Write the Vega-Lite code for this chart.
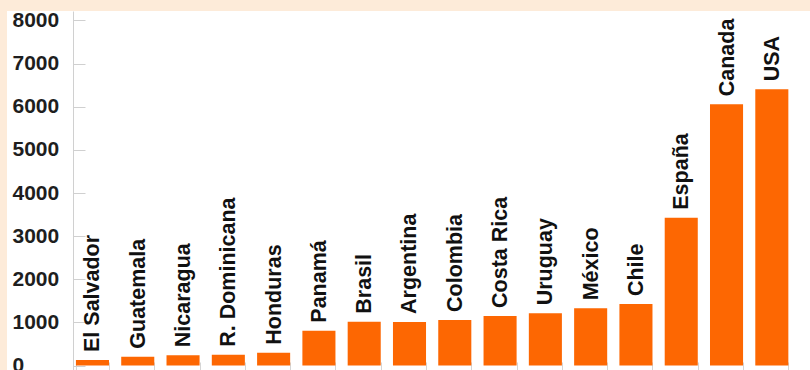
{
  "$schema": "https://vega.github.io/schema/vega-lite/v6.json",
  "width": 803,
  "height": 359,
  "autosize": {"type": "none"},
  "padding": {"left": 7, "top": 11, "right": 0, "bottom": 0},
  "background": "#fdebd9",
  "config": {"view": {"fill": "white", "stroke": null}},
  "data": {"values": [
    {"pais": "El Salvador", "valor": 130},
    {"pais": "Guatemala", "valor": 206},
    {"pais": "Nicaragua", "valor": 240},
    {"pais": "R. Dominicana", "valor": 250},
    {"pais": "Honduras", "valor": 299},
    {"pais": "Panamá", "valor": 809},
    {"pais": "Brasil", "valor": 1018},
    {"pais": "Argentina", "valor": 1012},
    {"pais": "Colombia", "valor": 1057},
    {"pais": "Costa Rica", "valor": 1150},
    {"pais": "Uruguay", "valor": 1212},
    {"pais": "México", "valor": 1328},
    {"pais": "Chile", "valor": 1426},
    {"pais": "España", "valor": 3428},
    {"pais": "Canada", "valor": 6057},
    {"pais": "USA", "valor": 6404}
  ]},
  "encoding": {
    "x": {
      "field": "pais", "type": "nominal", "sort": null,
      "scale": {"paddingInner": 0.27, "paddingOuter": 1.083, "align": 0.761, "round": false},
      "axis": {"labels": false, "title": null, "domain": false, "ticks": true, "tickBand": "extent", "tickSize": -8, "tickColor": "#d5d5d5"}
    },
    "y": {
      "field": "valor", "type": "quantitative",
      "scale": {"domain": [-102, 8220], "nice": false, "zero": false},
      "axis": {
        "values": [0, 1000, 2000, 3000, 4000, 5000, 6000, 7000, 8000],
        "format": "d",
        "title": null, "grid": false, "offset": -66,
        "domainColor": "#d0d0d0", "tickColor": "#d0d0d0", "tickSize": -12,
        "labelFont": "Liberation Sans", "labelFontWeight": "bold", "labelFontSize": 21,
        "labelColor": "#1e1e1e", "labelAlign": "left", "labelPadding": 73
      }
    }
  },
  "layer": [
    {"mark": {"type": "bar", "color": "#fd6702"}, "encoding": {"y2": {"datum": 0}}},
    {"mark": {"type": "text", "angle": 270, "align": "left", "baseline": "middle", "dx": 8, "dy": 1,
      "font": "Liberation Sans", "fontWeight": "bold", "fontSize": 21.5, "color": "#111111"},
     "encoding": {"text": {"field": "pais"}}}
  ]
}
